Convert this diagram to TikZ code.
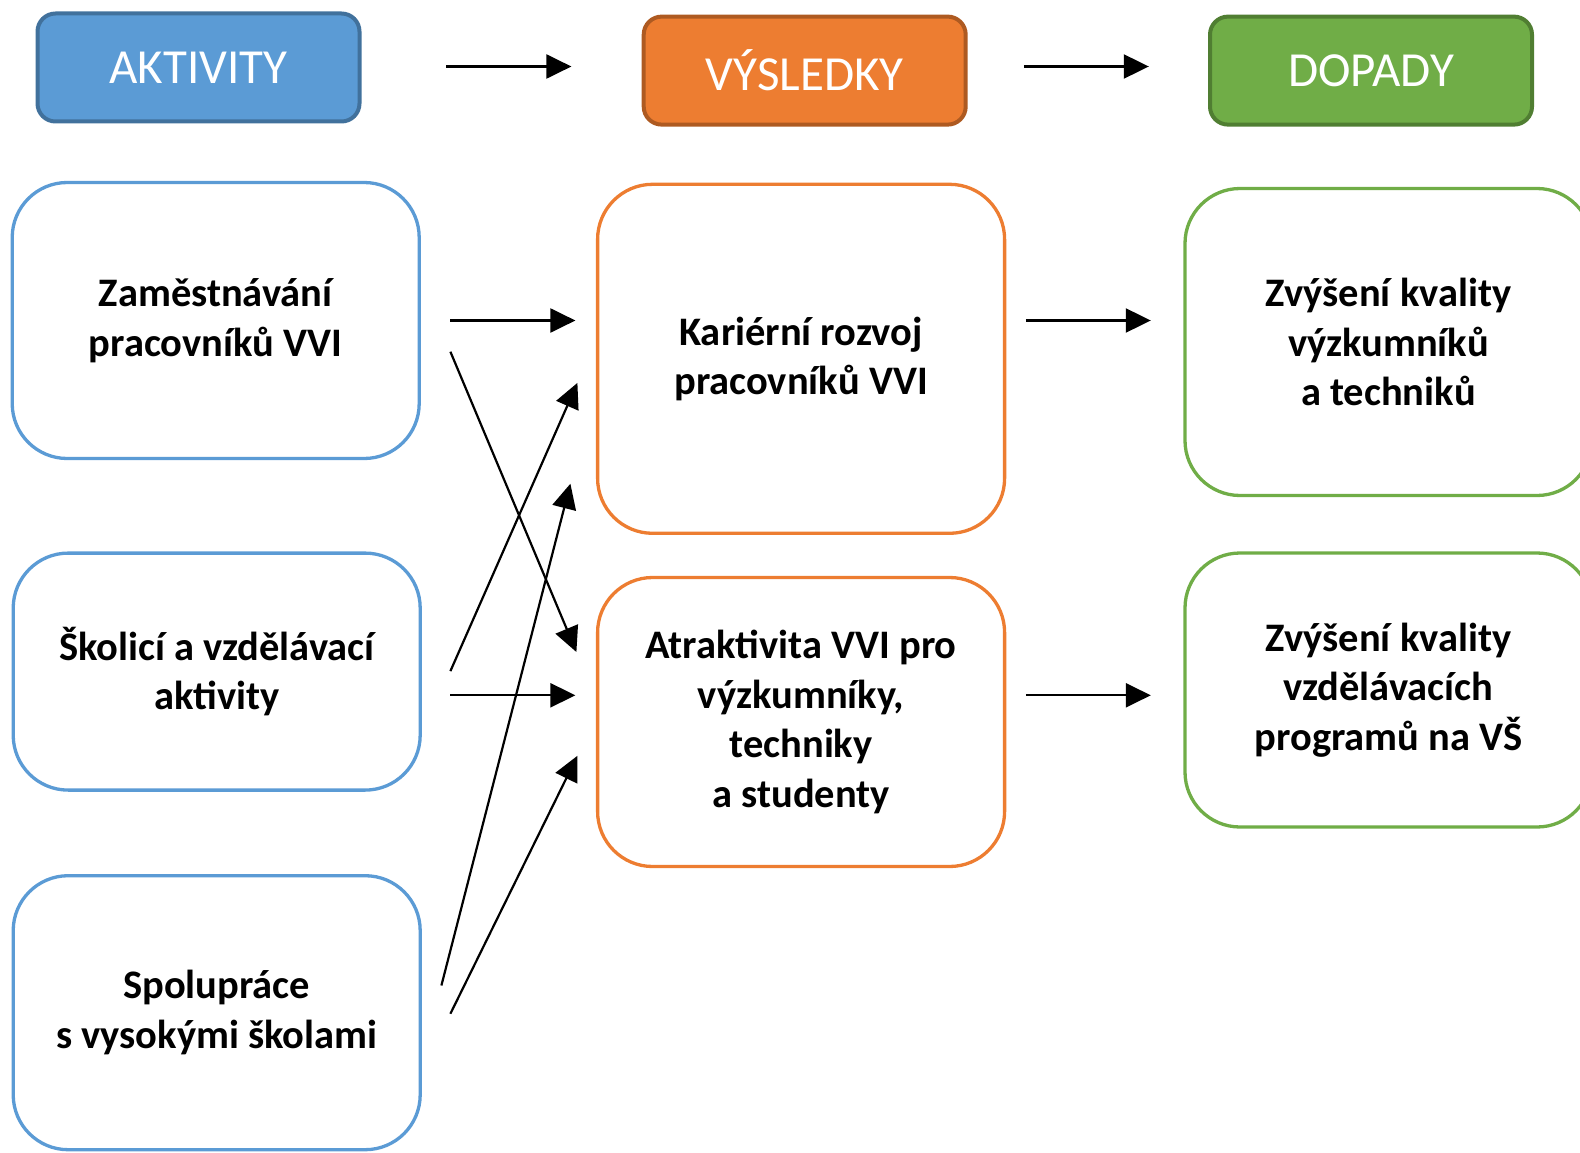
\documentclass[tikz,border=0pt]{standalone}
\usepackage{fontspec}
\setmainfont{Carlito}
\usetikzlibrary{arrows.meta}
\definecolor{cblue}{HTML}{5B9BD5}
\definecolor{cbluedk}{HTML}{41719C}
\definecolor{corange}{HTML}{ED7D31}
\definecolor{corangedk}{HTML}{AE5A21}
\definecolor{cgreen}{HTML}{70AD47}
\definecolor{cgreendk}{HTML}{507E32}
\tikzset{
  header/.style={rectangle, rounded corners=18pt, line width=4pt,
    minimum width=322pt, minimum height=108pt, text=white,
    font=\fontsize{49}{56}\selectfont, inner sep=0pt},
  card/.style={rectangle, rounded corners=55pt, line width=3.3pt, fill=white,
    minimum width=407pt, align=center, inner sep=0pt,
    font=\fontsize{40.5}{49.5}\selectfont\bfseries},
  flow/.style={line width=2.2pt, -{Triangle[length=25pt,width=24pt]}}
}
\begin{document}
\begin{tikzpicture}[x=1pt,y=-1pt]
\useasboundingbox (0,0) rectangle (1580,1153);

% column headers
\node[header, draw=cbluedk, fill=cblue] (hA) at (198.5,67.5) {AKTIVITY};
\node[header, draw=corangedk, fill=corange] (hV) at (804.7,70.6) {VÝSLEDKY};
\node[header, draw=cgreendk, fill=cgreen] (hD) at (1371,70.6) {DOPADY};

% activities
\node[card, draw=cblue, minimum height=276pt] (a1) at (215.7,320.5)
  {Zaměstnávání\\pracovníků VVI};
\node[card, draw=cblue, minimum height=237pt] (a2) at (216.7,671.6)
  {Školicí a vzdělávací\\aktivity};
\node[card, draw=cblue, minimum height=274pt] (a3) at (216.7,1012.7)
  {Spolupráce\\s vysokými školami};

% results
\node[card, draw=corange, minimum height=349pt] (v1) at (801.1,358.8)
  {Kariérní rozvoj\\pracovníků VVI};
\node[card, draw=corange, minimum height=289pt] (v2) at (801.1,722)
  {Atraktivita VVI pro\\výzkumníky,\\techniky\\a studenty};

% impacts
\node[card, draw=cgreen, minimum height=307pt] (d1) at (1388.5,342)
  {Zvýšení kvality\\výzkumníků\\a techniků};
\node[card, draw=cgreen, minimum height=274pt] (d2) at (1388.5,690)
  {Zvýšení kvality\\vzdělávacích\\programů na VŠ};

% connector end points
\coordinate (hAo) at (446.4,66.5);   \coordinate (hVi) at (571.4,66.5);
\coordinate (hVo) at (1023.8,66.5);  \coordinate (hDi) at (1148.8,66.5);
\coordinate (a1o) at (450.4,320.5);  \coordinate (v1i) at (575.4,320.5);
\coordinate (a1d) at (450.4,351.7);  \coordinate (v2t) at (576.4,652);
\coordinate (a2u) at (450.4,671.1);  \coordinate (v1b) at (577.4,382.9);
\coordinate (a2o) at (450.4,695.3);  \coordinate (v2i) at (575.4,695.3);
\coordinate (a3u) at (441.4,985.5);  \coordinate (v1c) at (570.4,483.7);
\coordinate (a3o) at (450.4,1013.7); \coordinate (v2b) at (577.4,755.8);
\coordinate (v1o) at (1025.8,320.5); \coordinate (d1i) at (1150.8,320.5);
\coordinate (v2o) at (1025.8,695.3); \coordinate (d2i) at (1150.8,695.3);

% connectors
\draw[flow] (hAo) -- (hVi);
\draw[flow] (hVo) -- (hDi);
\draw[flow] (a1o) -- (v1i);
\draw[flow] (a1d) -- (v2t);
\draw[flow] (a2u) -- (v1b);
\draw[flow] (a2o) -- (v2i);
\draw[flow] (a3u) -- (v1c);
\draw[flow] (a3o) -- (v2b);
\draw[flow] (v1o) -- (d1i);
\draw[flow] (v2o) -- (d2i);
\end{tikzpicture}
\end{document}
